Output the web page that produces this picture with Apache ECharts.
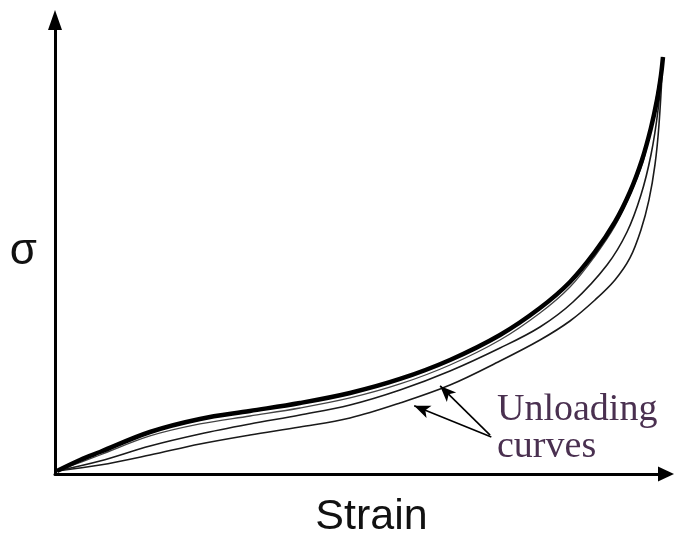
<!DOCTYPE html>
<html>
<head>
<meta charset="utf-8">
<script src="https://cdn.jsdelivr.net/npm/echarts@6/dist/echarts.min.js"></script>
<style>
  html, body { margin: 0; padding: 0; background: #fff; }
  #chart { width: 675px; height: 535px; }
</style>
</head>
<body>
<div id="chart"></div>
<script>
// Stress–strain response: one loading path and three unloading paths, as [strain, stress] pairs
const loadingCurve = [
  [0.32, 0.65], [4.05, 3.02], [7.29, 4.75], [15.39, 9.06], [23.49, 11.87],
  [31.59, 13.59], [39.69, 15.32], [47.80, 17.48], [55.90, 20.50], [64.00, 24.60],
  [72.10, 29.99], [78.58, 35.81], [83.44, 41.42], [87.49, 47.90], [90.73, 54.37],
  [93.16, 60.84], [95.11, 67.75], [96.56, 74.65], [97.54, 80.69], [98.19, 86.08],
  [98.51, 89.97]
];
const unloadingC = [
  [0.32, 0.65], [7.29, 4.10], [15.39, 8.20], [23.49, 10.79], [31.59, 12.51],
  [39.69, 14.24], [47.80, 16.40], [55.90, 19.42], [64.00, 23.52], [72.10, 28.91],
  [78.58, 34.74], [83.44, 40.35], [87.49, 47.03], [90.73, 53.51], [93.16, 60.19],
  [95.59, 68.82], [98.51, 89.97]
];
const unloadingA = [
  [0.32, 0.65], [7.29, 2.80], [15.39, 6.04], [23.49, 8.63], [31.59, 10.79],
  [39.69, 12.73], [47.80, 14.89], [55.90, 18.12], [64.00, 22.22], [72.10, 27.18],
  [78.58, 31.72], [83.93, 37.11], [89.44, 45.09], [92.68, 52.21], [94.94, 60.19],
  [96.56, 68.82], [97.71, 78.53], [98.51, 89.97]
];
const unloadingB = [
  [0.32, 0.65], [7.29, 1.94], [15.39, 4.10], [23.49, 6.47], [31.59, 8.41],
  [39.69, 10.14], [47.80, 12.08], [55.90, 15.32], [64.00, 19.20], [72.10, 24.38],
  [78.58, 28.91], [83.44, 33.01], [87.49, 37.54], [90.73, 41.86], [93.16, 46.60],
  [94.94, 52.64], [96.24, 59.12], [97.21, 66.67], [97.86, 75.30], [98.51, 89.97]
];

// Callout arrows: from the caption toward the unloading paths (strain, stress)
const arrowAnchors = [
  [[70.5, 8.4], [62.4, 19.0]],
  [[70.7, 8.0], [58.2, 14.7]]
];

const axisLabels = { x: 'Strain', y: 'σ' };
const calloutText = 'Unloading\ncurves';

const chart = echarts.init(document.getElementById('chart'), null, { renderer: 'canvas' });

const smoothing = { smooth: 0.35, showSymbol: false };
const thin = { color: '#1a1a1a', width: 1.6 };

chart.setOption({
  animation: false,
  backgroundColor: '#ffffff',
  grid: { left: 55, right: 9, top: 29, bottom: 61, outerBoundsMode: 'none', containLabel: false },
  xAxis: {
    type: 'value', min: 0, max: 99,
    name: axisLabels.x, nameLocation: 'middle', nameGap: 22,
    nameTextStyle: {
      fontFamily: 'Liberation Sans', fontSize: 43, color: '#111',
      verticalAlign: 'top', padding: [0, 0, 0, 22]
    },
    axisLine: {
      show: true, onZero: false,
      lineStyle: { color: '#000', width: 3 },
      symbol: ['none', 'triangle'], symbolSize: [15, 16], symbolOffset: [0, 0]
    },
    axisTick: { show: false }, axisLabel: { show: false }, splitLine: { show: false }
  },
  yAxis: {
    type: 'value', min: 0, max: 96,
    name: axisLabels.y, nameLocation: 'middle', nameGap: 18, nameRotate: 0,
    nameTextStyle: {
      fontFamily: 'Liberation Sans', fontSize: 44, color: '#111',
      padding: [0, 0, 8, 0]
    },
    axisLine: {
      show: true, onZero: false,
      lineStyle: { color: '#000', width: 3 },
      symbol: ['none', 'triangle'], symbolSize: [14, 20], symbolOffset: [0, 9]
    },
    axisTick: { show: false }, axisLabel: { show: false }, splitLine: { show: false }
  },
  series: [
    Object.assign({
      type: 'line', data: unloadingB, lineStyle: thin,
      markLine: {
        silent: true, animation: false,
        symbol: ['none', 'arrow'], symbolSize: [10, 16],
        lineStyle: { color: '#000', width: 1.6, type: 'solid' },
        label: { show: false },
        data: arrowAnchors.map(([from, to]) => [{ coord: from }, { coord: to }])
      }
    }, smoothing),
    Object.assign({ type: 'line', data: unloadingA, lineStyle: thin }, smoothing),
    Object.assign({ type: 'line', data: unloadingC, lineStyle: { color: '#444', width: 1.3 } }, smoothing),
    Object.assign({ type: 'line', data: loadingCurve, lineStyle: { color: '#000', width: 4.5 } }, smoothing)
  ],
  graphic: [
    {
      type: 'text', left: 497, top: 391,
      style: {
        text: calloutText, fill: '#4a3050',
        font: '38px "Liberation Serif"', lineHeight: 37
      }
    }
  ]
});
</script>
</body>
</html>
